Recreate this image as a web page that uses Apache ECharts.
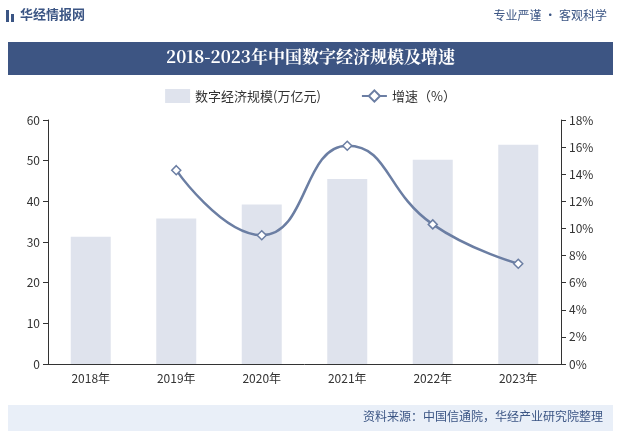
<!DOCTYPE html>
<html><head><meta charset="utf-8">
<script src="https://cdn.jsdelivr.net/npm/echarts@6/dist/echarts.min.js"></script>
<style>html,body{margin:0;padding:0;background:#fff}#c{width:621px;height:441px}</style>
</head><body><div id="c"></div>
<script>
const years = ['2018年', '2019年', '2020年', '2021年', '2022年', '2023年'];
const scale = [31.3, 35.8, 39.2, 45.5, 50.2, 53.9];
const growth = [null, 14.3, 9.5, 16.1, 10.3, 7.4];

const chart = echarts.init(document.getElementById('c'));
const font = '"Noto Sans CJK SC", sans-serif';
chart.setOption({
  textStyle: { fontFamily: font },
  graphic: [
    { type: 'rect', shape: { x: 6, y: 10, width: 3, height: 12 }, style: { fill: '#3b5584' } },
    { type: 'rect', shape: { x: 11, y: 14, width: 3, height: 8 }, style: { fill: '#3b5584' } },
    { type: 'text', left: 20, top: 8, style: { text: '华经情报网', fill: '#3b5584', font: 'bold 13px ' + font } },
    { type: 'text', right: 14, top: 9, style: { text: '专业严谨 • 客观科学', fill: '#3b5584', font: '12px ' + font } },
    { type: 'rect', shape: { x: 8, y: 42, width: 605, height: 33 }, style: { fill: '#3d5583' } },
    { type: 'text', left: 'center', top: 48, style: { text: '2018-2023年中国数字经济规模及增速', fill: '#fff', font: 'bold 17px "Noto Serif CJK SC", ' + font } },
    { type: 'rect', shape: { x: 8, y: 405, width: 605, height: 26 }, style: { fill: '#e9eff8' } },
    { type: 'text', right: 18, top: 410, style: { text: '资料来源：中国信通院，华经产业研究院整理', fill: '#3b5584', font: '12px ' + font } }
  ],
  legend: {
    top: 84, left: 'center', itemGap: 40,
    textStyle: { fontSize: 13, color: '#333' },
    data: [{ name: '数字经济规模(万亿元)', icon: 'rect' }, { name: '增速（%）' }]
  },
  grid: { left: 48, right: 60, top: 120, bottom: 77 },
  xAxis: {
    type: 'category', data: years,
    axisLine: { lineStyle: { color: '#333' } },
    axisTick: { show: false },
    axisLabel: { color: '#333', fontSize: 12 }
  },
  yAxis: [
    { type: 'value', min: 0, max: 60, interval: 10,
      axisLine: { show: true, lineStyle: { color: '#333' } },
      axisTick: { show: true }, splitLine: { show: false },
      axisLabel: { color: '#333', fontSize: 12 } },
    { type: 'value', min: 0, max: 18, interval: 2,
      axisLine: { show: true, lineStyle: { color: '#333' } },
      axisTick: { show: true }, splitLine: { show: false },
      axisLabel: { color: '#333', fontSize: 12, formatter: '{value}%' } }
  ],
  series: [
    { name: '数字经济规模(万亿元)', type: 'bar', data: scale, barWidth: 40,
      itemStyle: { color: '#dfe3ed' } },
    { name: '增速（%）', type: 'line', yAxisIndex: 1, data: growth, smooth: true,
      symbol: 'diamond', symbolSize: 9,
      lineStyle: { color: '#6b7ea3', width: 2.5 },
      itemStyle: { color: '#fff', borderColor: '#6b7ea3', borderWidth: 1.5 } }
  ]
});
</script></body></html>
